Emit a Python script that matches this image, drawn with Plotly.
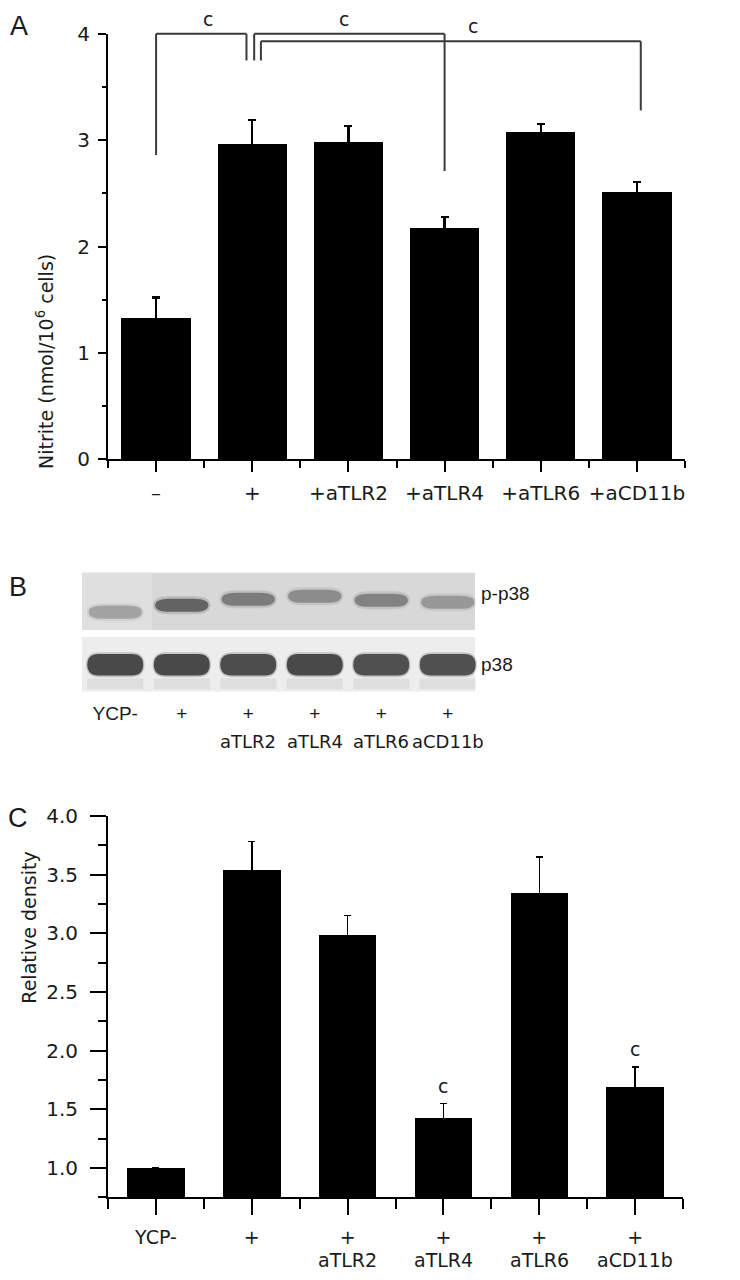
import plotly.graph_objects as go

# ---------------- data ----------------
# Panel A: nitrite production
a_labels = ["–", "+", "+aTLR2", "+aTLR4", "+aTLR6", "+aCD11b"]
a_values = [1.33, 2.97, 2.98, 2.18, 3.08, 2.51]
a_errors = [0.19, 0.22, 0.15, 0.10, 0.07, 0.10]
a_yticks = [0, 1, 2, 3, 4]

# Panel B: western blot band intensities (relative darkness)
b_top_labels = ["YCP-", "+", "+", "+", "+", "+"]
b_bottom_labels = ["", "", "aTLR2", "aTLR4", "aTLR6", "aCD11b"]
b_pp38 = [0.35, 0.80, 0.60, 0.48, 0.56, 0.40]
b_p38 = [0.90, 0.90, 0.88, 0.90, 0.86, 0.86]
b_rows = ["p-p38", "p38"]

# Panel C: relative density
c_top_labels = ["YCP-", "+", "+", "+", "+", "+"]
c_bottom_labels = ["", "", "aTLR2", "aTLR4", "aTLR6", "aCD11b"]
c_values = [1.0, 3.54, 2.99, 1.43, 3.34, 1.69]
c_errors = [0.0, 0.24, 0.16, 0.12, 0.31, 0.17]
c_sig = ["", "", "", "c", "", "c"]
c_yticks = [1.0, 1.5, 2.0, 2.5, 3.0, 3.5, 4.0]

# ---------------- layout geometry ----------------
W, H = 740, 1280
FONT = "DejaVu Sans"
SANS = "Liberation Sans"
TXT = "#1a1a1a"
# the photographed page shows rows with a small vertical inset; map target rows to page rows
V_OFF, V_SCALE = 8.0, 0.9875

def fx(px):
    return px / W

def fy(py):
    return 1 - ((py - V_OFF) / V_SCALE) / H

def dom_x(p0, p1):
    return [fx(p0), fx(p1)]

def dom_y(top, bottom):
    return [fy(bottom), fy(top)]

xa_dom, ya_dom = dom_x(108, 685), dom_y(30, 458)
xb_dom, yb_dom = dom_x(82, 481), dom_y(572, 692)
xc_dom, yc_dom = dom_x(108, 683), dom_y(817, 1201)
xr = [-0.5, 5.5]
ya_r = [0, 4]
yc_r = [0.75, 4.0]

xs = list(range(len(a_values)))

fig = go.Figure()

fig.add_trace(go.Bar(
    x=xs, y=a_values, width=0.72, marker=dict(color="black", line=dict(width=0)),
    error_y=dict(type="data", symmetric=False, array=a_errors, arrayminus=[0.05] * 6,
                 color="black", thickness=2.2, width=4),
    xaxis="x", yaxis="y", hoverinfo="skip"))

c_err_vis = [e if e > 0 else None for e in c_errors]
fig.add_trace(go.Bar(
    x=xs, y=c_values, width=0.6, marker=dict(color="black", line=dict(width=0)),
    error_y=dict(type="data", symmetric=False, array=c_err_vis,
                 arrayminus=[0.05 if e else None for e in c_err_vis],
                 color="black", thickness=1.5, width=3.5),
    xaxis="x3", yaxis="y3", hoverinfo="skip"))

axis_common = dict(showgrid=False, zeroline=False, showline=True, linecolor="black",
                   linewidth=2, ticks="outside", tickcolor="black", tickwidth=2,
                   fixedrange=True)

layout = dict(
    width=W, height=H, margin=dict(l=0, r=0, t=0, b=0),
    paper_bgcolor="white", plot_bgcolor="white", showlegend=False,
    bargap=0,
    xaxis=dict(domain=xa_dom, range=xr, tickvals=xs, ticktext=a_labels, ticklen=11,
               tickfont=dict(family=FONT, size=20, color=TXT), ticklabelstandoff=4,
               minor=dict(tickvals=[x + 0.5 for x in [-1] + xs], ticklen=7, tickwidth=2,
                          tickcolor="black", ticks="outside"),
               anchor="y", **axis_common),
    yaxis=dict(domain=ya_dom, range=ya_r, tickvals=a_yticks, ticklen=8,
               tickfont=dict(family=FONT, size=20, color=TXT), ticklabelstandoff=4,
               minor=dict(dtick=0.5, tick0=0, ticklen=4, tickwidth=2,
                          tickcolor="black", ticks="outside"),
               anchor="x", **axis_common),
    xaxis2=dict(domain=xb_dom, range=xr, tickvals=xs, ticktext=b_top_labels,
                showline=False, showgrid=False, zeroline=False, ticks="",
                tickfont=dict(family=SANS, size=19, color=TXT), ticklabelstandoff=8,
                anchor="y2", fixedrange=True),
    yaxis2=dict(domain=yb_dom, range=[0, 1], visible=False, anchor="x2", fixedrange=True),
    xaxis3=dict(domain=xc_dom, range=xr, tickvals=xs, ticktext=c_top_labels, ticklen=16,
                tickfont=dict(family=FONT, size=19, color=TXT), ticklabelstandoff=6,
                minor=dict(tickvals=[x + 0.5 for x in [-1] + xs], ticklen=10, tickwidth=2,
                           tickcolor="black", ticks="outside"),
                anchor="y3", **axis_common),
    yaxis3=dict(domain=yc_dom, range=yc_r, tickvals=c_yticks, tickformat=".1f", ticklen=16,
                tickfont=dict(family=FONT, size=20, color=TXT), ticklabelstandoff=8,
                minor=dict(dtick=0.25, tick0=0.75, ticklen=8, tickwidth=2,
                           tickcolor="black", ticks="outside"),
                anchor="x3", **axis_common),
)
fig.update_layout(**layout)

shapes = []
annotations = []

# ---------- Panel A significance brackets ----------
def to_paper(x, y, xd, yd, xrng, yrng):
    px = xd[0] + (x - xrng[0]) / (xrng[1] - xrng[0]) * (xd[1] - xd[0])
    py = yd[0] + (y - yrng[0]) / (yrng[1] - yrng[0]) * (yd[1] - yd[0])
    return px, py

# (left x, left end y, right x, right end y, top y, label x)
brackets = [
    (0.00, 2.86, 0.94, 3.75, 4.00, 0.47),
    (1.02, 3.75, 3.00, 2.71, 4.00, 1.95),
    (1.09, 3.75, 5.04, 3.28, 3.93, 3.30),
]
line_style = dict(color="#3a3a3a", width=2)
for xl, yl, xrgt, yrgt, top, lx in brackets:
    pts = [(xl, yl), (xl, top), (xrgt, top), (xrgt, yrgt)]
    pp = [to_paper(x, y, xa_dom, ya_dom, xr, ya_r) for x, y in pts]
    for (x0, y0), (x1, y1) in zip(pp[:-1], pp[1:]):
        shapes.append(dict(type="line", xref="paper", yref="paper", x0=x0, y0=y0,
                           x1=x1, y1=y1, line=line_style))
    lpx, lpy = to_paper(lx, top, xa_dom, ya_dom, xr, ya_r)
    annotations.append(dict(x=lpx, y=lpy, xref="paper", yref="paper", text="c",
                            showarrow=False, yanchor="bottom", yshift=2,
                            font=dict(family=FONT, size=19, color=TXT)))

# ---------- Panel B blot drawing ----------
shapes.append(dict(type="rect", xref="x2", yref="y2", x0=-0.5, x1=5.41, y0=0.517, y1=1.0,
                   fillcolor="#d8d8d8", line=dict(width=0), layer="below"))
shapes.append(dict(type="rect", xref="x2", yref="y2", x0=-0.5, x1=0.55, y0=0.517, y1=1.0,
                   fillcolor="#dfdfdf", line=dict(width=0), layer="below"))
shapes.append(dict(type="rect", xref="x2", yref="y2", x0=-0.5, x1=5.41, y0=0.0, y1=0.458,
                   fillcolor="#ededed", line=dict(width=0), layer="below"))

def pill(cx, cy, w, h, r):
    x0, x1 = cx - w / 2, cx + w / 2
    y0, y1 = cy - h / 2, cy + h / 2
    return (f"M {x0 + r},{y0} L {x1 - r},{y0} Q {x1},{y0} {x1},{cy} Q {x1},{y1} {x1 - r},{y1} "
            f"L {x0 + r},{y1} Q {x0},{y1} {x0},{cy} Q {x0},{y0} {x0 + r},{y0} Z")

pp38_y = [0.667, 0.725, 0.775, 0.800, 0.767, 0.750]
for i, inten in enumerate(b_pp38):
    shapes.append(dict(type="path", xref="x2", yref="y2",
                       path=pill(i, pp38_y[i], 0.86, 0.15, 0.25),
                       fillcolor="#5a5a5a", opacity=inten * 0.3, line=dict(width=0)))
    shapes.append(dict(type="path", xref="x2", yref="y2",
                       path=pill(i, pp38_y[i], 0.80, 0.11, 0.22),
                       fillcolor="#3a3a3a", opacity=inten * 0.85, line=dict(width=0)))
for i, inten in enumerate(b_p38):
    shapes.append(dict(type="rect", xref="x2", yref="y2", x0=i - 0.42, x1=i + 0.42,
                       y0=0.02, y1=0.11, fillcolor="#a8a8a8", opacity=0.22,
                       line=dict(width=0)))
    shapes.append(dict(type="path", xref="x2", yref="y2",
                       path=pill(i, 0.225, 0.88, 0.21, 0.2),
                       fillcolor="#555555", opacity=inten * 0.3, line=dict(width=0)))
    shapes.append(dict(type="path", xref="x2", yref="y2",
                       path=pill(i, 0.225, 0.84, 0.18, 0.17),
                       fillcolor="#3c3c3c", opacity=inten, line=dict(width=0)))

for name, py in zip(b_rows, [593, 665]):
    annotations.append(dict(x=fx(479), y=fy(py), xref="paper", yref="paper", text=name,
                            showarrow=False, xanchor="left", yanchor="middle",
                            font=dict(family=SANS, size=19, color=TXT)))
for i, t in enumerate(b_bottom_labels):
    if t:
        annotations.append(dict(x=i, y=fy(742), xref="x2", yref="paper", text=t,
                                showarrow=False, yanchor="middle",
                                font=dict(family=FONT, size=18, color=TXT)))

# ---------- Panel C labels ----------
for i, t in enumerate(c_bottom_labels):
    if t:
        annotations.append(dict(x=i, y=fy(1264), xref="x3", yref="paper", text=t,
                                showarrow=False, yanchor="middle",
                                font=dict(family=FONT, size=19, color=TXT)))
for i, s in enumerate(c_sig):
    if s:
        annotations.append(dict(x=i, y=c_values[i] + c_errors[i], xref="x3", yref="y3",
                                text=s, showarrow=False, yanchor="bottom", yshift=5,
                                font=dict(family=FONT, size=19, color=TXT)))

# ---------- axis titles and panel letters ----------
annotations.append(dict(x=fx(31), y=fy(250), xref="paper", yref="paper",
                        text="Nitrite (nmol/10<sup>6</sup> cells)", textangle=-90,
                        showarrow=False, font=dict(family=FONT, size=19, color=TXT)))
annotations.append(dict(x=fx(16), y=fy(1008), xref="paper", yref="paper",
                        text="Relative density", textangle=-90,
                        showarrow=False, font=dict(family=FONT, size=19, color=TXT)))
for letter, px, py in [("A", 19, 22), ("B", 18, 587), ("C", 18, 819)]:
    annotations.append(dict(x=fx(px), y=fy(py), xref="paper", yref="paper", text=letter,
                            showarrow=False, xanchor="center", yanchor="middle",
                            font=dict(family=SANS, size=27, color=TXT)))

fig.update_layout(shapes=shapes, annotations=annotations)
fig.write_html("out.html", post_script="document.body.style.margin='0px';",
               config={"displayModeBar": False})
